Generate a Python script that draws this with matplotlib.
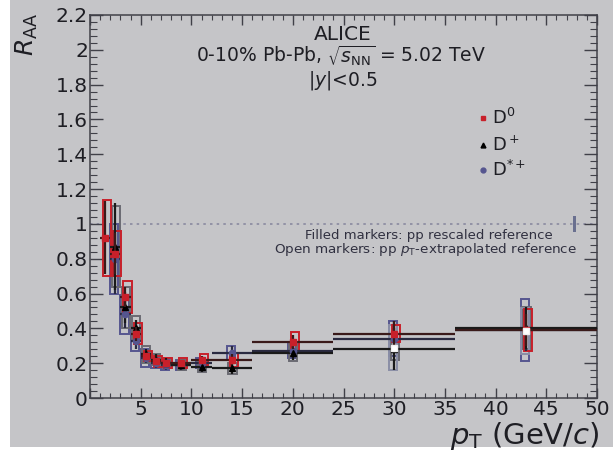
import numpy as np
import matplotlib.pyplot as plt
from matplotlib.patches import Rectangle
from matplotlib.ticker import MultipleLocator

plt.rcParams['font.family'] = ['DejaVu Sans']
plt.rcParams['mathtext.fontset'] = 'dejavusans'

# pT bins (GeV/c)
pt = [1.5, 2.5, 3.5, 4.5, 5.5, 6.5, 7.5, 9, 11, 14, 20, 30, 43]
pt_hw = [0.5, 0.5, 0.5, 0.5, 0.5, 0.5, 0.5, 1, 1, 2, 4, 6, 7]

# D0, 0-10% Pb-Pb
d0_raa = [0.92, 0.83, 0.58, 0.37, 0.24, 0.21, 0.20, 0.20, 0.22, 0.22, 0.32, 0.37, 0.39]
d0_stat = [0.21, 0.12, 0.06, 0.04, 0.02, 0.02, 0.02, 0.02, 0.02, 0.03, 0.04, 0.07, 0.09]
d0_sys = [0.22, 0.13, 0.09, 0.06, 0.03, 0.03, 0.03, 0.03, 0.03, 0.04, 0.06, 0.05, 0.12]

# D+ and D*+ start from the 2-3 GeV/c bin
dplus_raa = [0.87, 0.52, 0.40, 0.25, 0.22, 0.20, 0.19, 0.18, 0.17, 0.26, 0.28, 0.40]
dplus_stat = [0.25, 0.09, 0.05, 0.03, 0.03, 0.03, 0.03, 0.03, 0.03, 0.04, 0.12, 0.12]
dplus_sys = [0.23, 0.12, 0.07, 0.05, 0.03, 0.03, 0.03, 0.03, 0.03, 0.05, 0.06, 0.12]

dstar_raa = [0.80, 0.48, 0.33, 0.23, 0.20, 0.19, 0.19, 0.20, 0.26, 0.27, 0.34, 0.39]
dstar_stat = [0.20, 0.08, 0.05, 0.03, 0.03, 0.03, 0.03, 0.03, 0.04, 0.04, 0.10, 0.12]
dstar_sys = [0.20, 0.11, 0.06, 0.05, 0.03, 0.03, 0.03, 0.03, 0.04, 0.04, 0.10, 0.18]

# open markers: pp pT-extrapolated reference (highest bins)
ext_pt = [30, 43]
ext_raa = [0.29, 0.385]
ext_sys = [0.13, 0.13]

bg = '#c5c5c8'
red = '#c8202a'
blue = '#55558f'
txt = '#1e1e24'

fig = plt.figure(figsize=(6.13, 4.57), dpi=100, facecolor='white')
fig.patches.append(Rectangle((10 / 613, 10 / 457), 1, 1, transform=fig.transFigure,
                             facecolor=bg, edgecolor='none', zorder=-10))
ax = fig.add_axes([90 / 613, 1 - 398 / 457, 507 / 613, 383 / 457])
ax.set_facecolor(bg)


def sys_boxes(x, y, err, width, color, shift=0.0):
    for xi, yi, ei in zip(x, y, err):
        ax.add_patch(Rectangle((xi - width / 2 + shift, yi - ei), width, 2 * ei,
                               facecolor='none', edgecolor=color, lw=1.4, zorder=2))


pt_d = pt[1:]
hw_d = pt_hw[1:]

sys_boxes(pt_d, dstar_raa, dstar_sys, 0.8, blue, -0.1)
sys_boxes(pt_d, dplus_raa, dplus_sys, 0.8, '#6a6a72', 0.05)
sys_boxes(ext_pt, ext_raa, ext_sys, 0.8, '#8a8ea6', -0.1)
sys_boxes(pt, d0_raa, d0_sys, 0.8, red, 0.2)

ax.errorbar(pt_d, dstar_raa, xerr=hw_d, yerr=dstar_stat, fmt='o', color=blue,
            ecolor='#2a2a40', ms=4.5, elinewidth=1.6, capsize=0, zorder=3)
ax.errorbar(pt_d, dplus_raa, xerr=hw_d, yerr=dplus_stat, fmt='^', color='black',
            ecolor='#1a1a1a', ms=4.5, elinewidth=1.6, capsize=0, zorder=3)
ax.errorbar(pt, d0_raa, xerr=pt_hw, yerr=d0_stat, fmt='s', color=red,
            ecolor='#3a1a1a', ms=4.5, elinewidth=1.6, capsize=0, zorder=4)
ax.plot(ext_pt, ext_raa, 's', mfc='white', mec='#f0f0f0', ms=4, zorder=5)

# unity line and normalisation uncertainty
ax.axhline(1.0, color='#8a8aa0', ls=(0, (1.5, 2.5)), lw=1.2, zorder=1)
ax.add_patch(Rectangle((47.6, 0.955), 0.35, 0.09, facecolor='#6a7090',
                       edgecolor='none', zorder=2))

ax.set_xlim(0, 50)
ax.set_ylim(0, 2.2)
ax.xaxis.set_minor_locator(MultipleLocator(1))
ax.yaxis.set_minor_locator(MultipleLocator(0.04))
ax.tick_params(which='both', direction='in', top=True, right=True, colors='#404048',
               labelcolor=txt, labelsize=14.5, pad=1.5)
ax.tick_params(axis='y', which='major', length=9.5, width=1)
ax.tick_params(axis='y', which='minor', length=5, width=0.8)
ax.tick_params(axis='x', which='major', length=7, width=1)
ax.tick_params(axis='x', which='minor', length=3.5, width=0.8)
ax.set_xticks([0, 5, 10, 15, 20, 25, 30, 35, 40, 45, 50])
ax.set_xticklabels(['', '5', '10', '15', '20', '25', '30', '35', '40', '45', '50'])
ax.set_yticks(np.arange(0, 2.21, 0.2))
ax.set_yticklabels(['0', '0.2', '0.4', '0.6', '0.8', '1', '1.2', '1.4', '1.6', '1.8', '2', '2.2'])
for s in ax.spines.values():
    s.set_color('#404048')
    s.set_linewidth(1.1)

# axis titles
fig.text(600 / 613, 1 - 444 / 457, r'$p_{\rm T}$ (GeV/$c$)', ha='right', va='baseline',
         fontsize=21, color=txt)
fig.text(27 / 613, 1 - 34 / 457, r'$R_{\rm AA}$', rotation=90, ha='center', va='center',
         fontsize=18, color=txt)

fig.text(343 / 613, 1 - 35 / 457, 'ALICE', ha='center', va='center', fontsize=14.5, color=txt)
fig.text(341 / 613, 1 - 56 / 457, r'0-10% Pb-Pb, $\sqrt{s_{\rm NN}}$ = 5.02 TeV',
         ha='center', va='center', fontsize=13.5, color=txt)
fig.text(343 / 613, 1 - 81 / 457, r'|$y$|<0.5', ha='center', va='center', fontsize=13.5,
         color=txt)

# legend entries
leg = [('s', red, r'D$^0$', 118), ('^', 'black', r'D$^+$', 145), ('o', blue, r'D$^{*+}$', 170)]
for m, c, lab, yp in leg:
    fig.lines.append(plt.Line2D([483 / 613], [1 - yp / 457], marker=m, color=c, ms=3.5,
                                transform=fig.transFigure))
    fig.text(492 / 613, 1 - yp / 457, lab, ha='left', va='center', fontsize=13, color=txt)

fig.text(553 / 613, 1 - 235 / 457, 'Filled markers: pp rescaled reference', ha='right',
         va='center', fontsize=9.5, color='#303040')
fig.text(577 / 613, 1 - 250 / 457,
         r'Open markers: pp $p_{\rm T}$-extrapolated reference', ha='right',
         va='center', fontsize=9.7, color='#303040')

fig.savefig('out.png', dpi=100)
